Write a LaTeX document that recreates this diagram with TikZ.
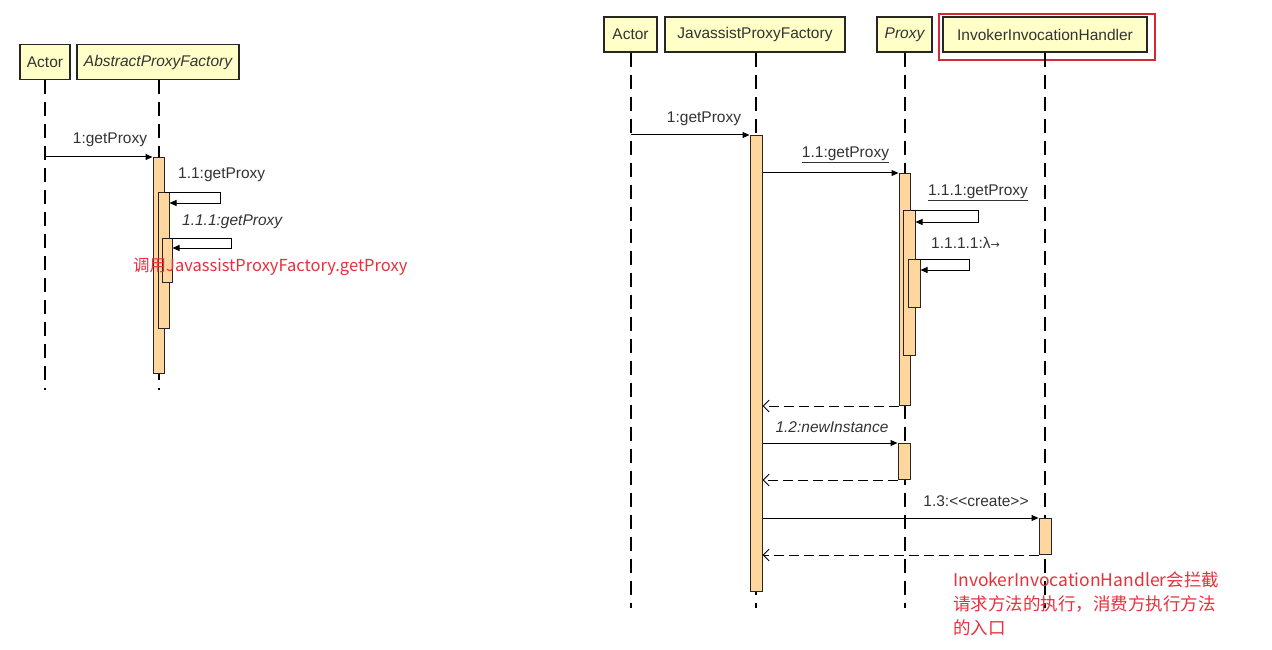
\documentclass[tikz,border=0pt]{standalone}
\usepackage{fontspec}
\setmainfont{Liberation Sans}
\newfontfamily\cjk{Noto Sans CJK SC}
\newfontfamily\dejavu{DejaVu Sans}
\usetikzlibrary{arrows.meta}
\definecolor{objfill}{RGB}{255,255,200}
\definecolor{actfill}{RGB}{254,214,158}
\definecolor{notered}{RGB}{232,48,60}
\definecolor{boxred}{RGB}{214,40,52}
\tikzset{
	obj/.style={draw=black!85, fill=objfill, line width=1.3pt, minimum height=35pt, inner sep=0pt, text=black!80, font=\fontsize{15.5}{18}\selectfont},
	life/.style={line width=1.2pt, dash pattern=on 14pt off 8pt},
	act/.style={draw=black!85, fill=actfill, line width=1pt, inner sep=0pt, anchor=north},
	msg/.style={line width=1pt, -{Triangle[length=7pt,width=6pt]}},
	ret/.style={line width=1pt, dash pattern=on 10pt off 5pt, -{Straight Barb[length=6pt,width=12pt]}},
	lbl/.style={font=\fontsize{15.5}{18}\selectfont, text=black!80, inner sep=0pt},
	note/.style={text=notered, font=\cjk\fontsize{16.5}{24}\selectfont, align=left, inner sep=0pt, anchor=west},
	hilite/.style={draw=boxred, line width=1.8pt, inner sep=0pt},
}
\begin{document}
\begin{tikzpicture}[x=1pt, y=-1pt]
	\useasboundingbox[fill=white] (0,0) rectangle (1272,650);
	
	% left diagram
	\node[obj, minimum width=50pt] (actorL) at (45,62) {Actor};
	\node[obj, minimum width=162pt] (apf) at (158,62) {\itshape AbstractProxyFactory};
	\coordinate (actorLend) at (45,390);
	\coordinate (apfend) at (159,390);
	\draw[life] (actorL.south) -- (actorLend);
	\draw[life] (apf.south -| apfend) -- (apfend);
	
	\node[act, minimum width=11pt, minimum height=216pt] (a1) at (158.5,157) {};
	\node[act, minimum width=11pt, minimum height=136pt] (a2) at (163.5,192) {};
	\node[act, minimum width=10pt, minimum height=44pt] (a3) at (167,238) {};
	
	\draw[msg] (actorL.south |- a1.north) -- (a1.north west);
	\draw[msg] (a1.east |- a2.north) -- ++(56,0) |- ([yshift=-11pt]a2.north east);
	\draw[msg] (a2.east |- a3.north) -- ++(62,0) |- ([yshift=-10pt]a3.north east);
	
	\node[lbl] at (110,140) {1:getProxy};
	\node[lbl, anchor=west] at (178,175) {1.1:getProxy};
	\node[lbl, anchor=west] at (182,222) {\itshape 1.1.1:getProxy};
	\node[note] at (133,267) {调用JavassistProxyFactory.getProxy};
	
	% right diagram
	\node[obj, minimum width=53pt] (actorR) at (630.5,34.5) {Actor};
	\node[obj, minimum width=180pt] (jpf) at (755,34.5) {JavassistProxyFactory};
	\node[obj, minimum width=55pt] (proxy) at (904.5,34.5) {\itshape Proxy};
	\node[obj, minimum width=204pt] (iih) at (1045,34.5) {InvokerInvocationHandler};
	\node[hilite, minimum width=216pt, minimum height=46pt] (mark) at (1047,37) {};
	\foreach \o/\x in {actorR/631, jpf/756, proxy/905, iih/1045} {
		\coordinate (\o end) at (\x,608);
		\draw[life] (\o.south -| \o end) -- (\o end);
	}
	
	\node[act, minimum width=12pt, minimum height=456pt] (b1) at (756,135) {};
	\node[act, minimum width=11pt, minimum height=232pt] (c1) at (904.5,173) {};
	\node[act, minimum width=12pt, minimum height=145pt] (c2) at (909,210) {};
	\node[act, minimum width=12pt, minimum height=48pt] (c3) at (914,259) {};
	\node[act, minimum width=12pt, minimum height=36pt] (c4) at (904,443) {};
	\node[act, minimum width=12pt, minimum height=36pt] (d1) at (1045,518) {};
	
	\draw[msg] (actorR.south |- b1.north) -- (b1.north west);
	\draw[msg] (b1.east |- c1.north) -- (c1.north west);
	\draw[msg] (c1.east |- c2.north) -- ++(68,0) |- ([yshift=-12pt]c2.north east);
	\draw[msg] (c2.east |- c3.north) -- ++(54,0) |- ([yshift=-11pt]c3.north east);
	\draw[ret] (c1.south west) -- (b1.east |- c1.south);
	\draw[msg] (b1.east |- c4.north) -- (c4.north west);
	\draw[ret] (c4.south west) -- (b1.east |- c4.south);
	\draw[msg] (b1.east |- d1.north) -- (d1.north west);
	\draw[ret] (d1.south west) -- (b1.east |- d1.south);
	
	\node[lbl] at (704,119) {1:getProxy};
	\node[lbl] at (845.5,155) {\underline{1.1:getProxy}};
	\node[lbl] at (978,193) {\underline{1.1.1:getProxy}};
	\node[lbl, anchor=west] at (931,243) {1.1.1.1:λ{\dejavu\fontsize{11}{12}\selectfont →}};
	\node[lbl] at (832,427) {\itshape 1.2:newInstance};
	\node[lbl] at (976,501) {1.3:<{}<create>{}>};
	\node[note, font=\cjk\fontsize{17.5}{24}\selectfont] at (953,604) {InvokerInvocationHandler会拦截\\请求方法的执行，消费方执行方法\\的入口};
\end{tikzpicture}
\end{document}
